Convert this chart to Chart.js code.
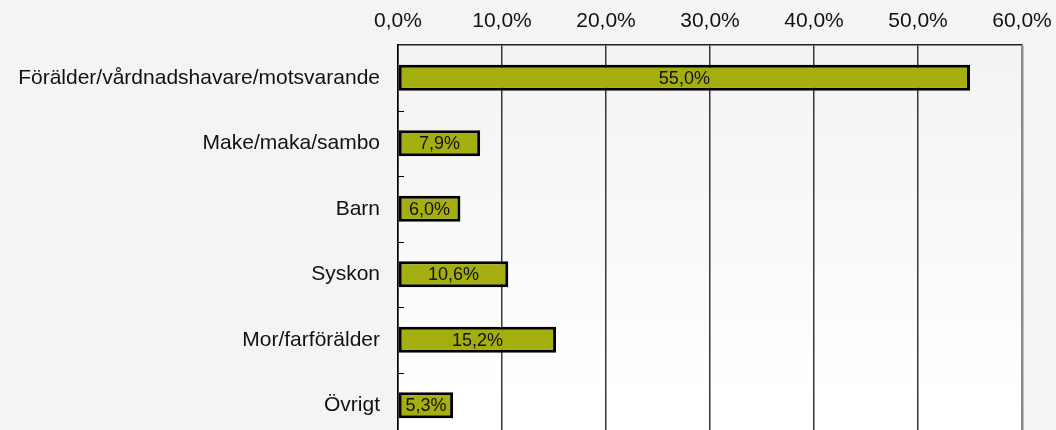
<!DOCTYPE html>
<html>
<head>
<meta charset="utf-8">
<script src="https://cdn.jsdelivr.net/npm/chart.js@4/dist/chart.umd.min.js"></script>
<style>
  html, body { margin: 0; padding: 0; background: #f4f4f4; overflow: hidden; }
  #wrap { width: 1056px; height: 430px; overflow: hidden; }
</style>
</head>
<body>
<div id="wrap"><canvas id="myChart" width="1056" height="440"></canvas></div>
<script>
// data
var categories = ['Förälder/vårdnadshavare/motsvarande', 'Make/maka/sambo', 'Barn', 'Syskon', 'Mor/farförälder', 'Övrigt'];
var values = [55.0, 7.9, 6.0, 10.6, 15.2, 5.3];
var xTicks = [0, 10, 20, 30, 40, 50, 60];

function pct(v) {
  return v.toFixed(1).replace('.', ',') + '%';
}

// plot area background (light gray at top -> white at bottom)
var bgPlugin = {
  id: 'plotBg',
  beforeDraw: function(chart) {
    var a = chart.chartArea, c = chart.ctx;
    var g = c.createLinearGradient(0, a.top, 0, a.top + 360);
    g.addColorStop(0, '#f3f3f3');
    g.addColorStop(1, '#ffffff');
    c.save();
    c.fillStyle = g;
    c.fillRect(a.left, a.top, a.right - a.left, a.bottom - a.top);
    c.restore();
  }
};

// small inward tick marks between categories + bar value labels
var labelPlugin = {
  id: 'barLabels',
  afterDatasetsDraw: function(chart) {
    var c = chart.ctx, y = chart.scales.y, a = chart.chartArea;
    c.save();
    c.strokeStyle = '#000';
    c.lineWidth = 1;
    for (var i = 0; i < categories.length - 1; i++) {
      var p = Math.round((y.getPixelForValue(i) + y.getPixelForValue(i + 1)) / 2) + 0.5;
      c.beginPath();
      c.moveTo(a.left, p);
      c.lineTo(a.left + 6, p);
      c.stroke();
    }
    var meta = chart.getDatasetMeta(0);
    c.fillStyle = '#111';
    c.font = '18px "Liberation Sans", Arial, sans-serif';
    c.textAlign = 'center';
    c.textBaseline = 'middle';
    meta.data.forEach(function(bar, i) {
      c.fillText(pct(values[i]), (bar.x + bar.base) / 2, bar.y + 1);
    });
    c.restore();
  }
};

var ctx = document.getElementById('myChart');
new Chart(ctx, {
  type: 'bar',
  data: {
    labels: categories,
    datasets: [{
      data: values,
      backgroundColor: '#a5ae0f',
      borderColor: '#000',
      borderWidth: 3,
      borderSkipped: false,
      categoryPercentage: 1,
      barPercentage: 0.4
    }]
  },
  options: {
    indexAxis: 'y',
    responsive: false,
    devicePixelRatio: 1,
    animation: false,
    layout: { padding: { left: 0, right: 34, top: 0, bottom: 2 } },
    plugins: {
      legend: { display: false },
      tooltip: { enabled: false }
    },
    scales: {
      x: {
        position: 'top',
        min: 0,
        max: 60,
        afterBuildTicks: function(scale) {
          scale.ticks = xTicks.map(function(v) { return { value: v }; });
        },
        afterFit: function(scale) {
          scale.height = 45;
          scale.paddingLeft = 0;
          scale.paddingRight = 0;
        },
        grid: {
          color: function(ctx) { return ctx.tick && ctx.tick.value === 60 ? '#8a8a8a' : '#383838'; },
          lineWidth: function(ctx) { return ctx.tick && ctx.tick.value === 60 ? 2.5 : 1.5; },
          drawTicks: false
        },
        border: { color: '#222', width: 1.5 },
        ticks: {
          padding: 11,
          color: '#111',
          font: { family: '"Liberation Sans", Arial, sans-serif', size: 21 },
          callback: function(v) { return pct(v); }
        }
      },
      y: {
        afterFit: function(scale) {
          scale.width = 398;
          scale.paddingTop = 0;
          scale.paddingBottom = 0;
        },
        grid: { drawOnChartArea: false, drawTicks: false },
        border: { color: '#000', width: 1.5 },
        ticks: {
          padding: 18,
          color: '#111',
          font: { family: '"Liberation Sans", Arial, sans-serif', size: 21 }
        }
      }
    }
  },
  plugins: [bgPlugin, labelPlugin]
});
</script>
</body>
</html>
